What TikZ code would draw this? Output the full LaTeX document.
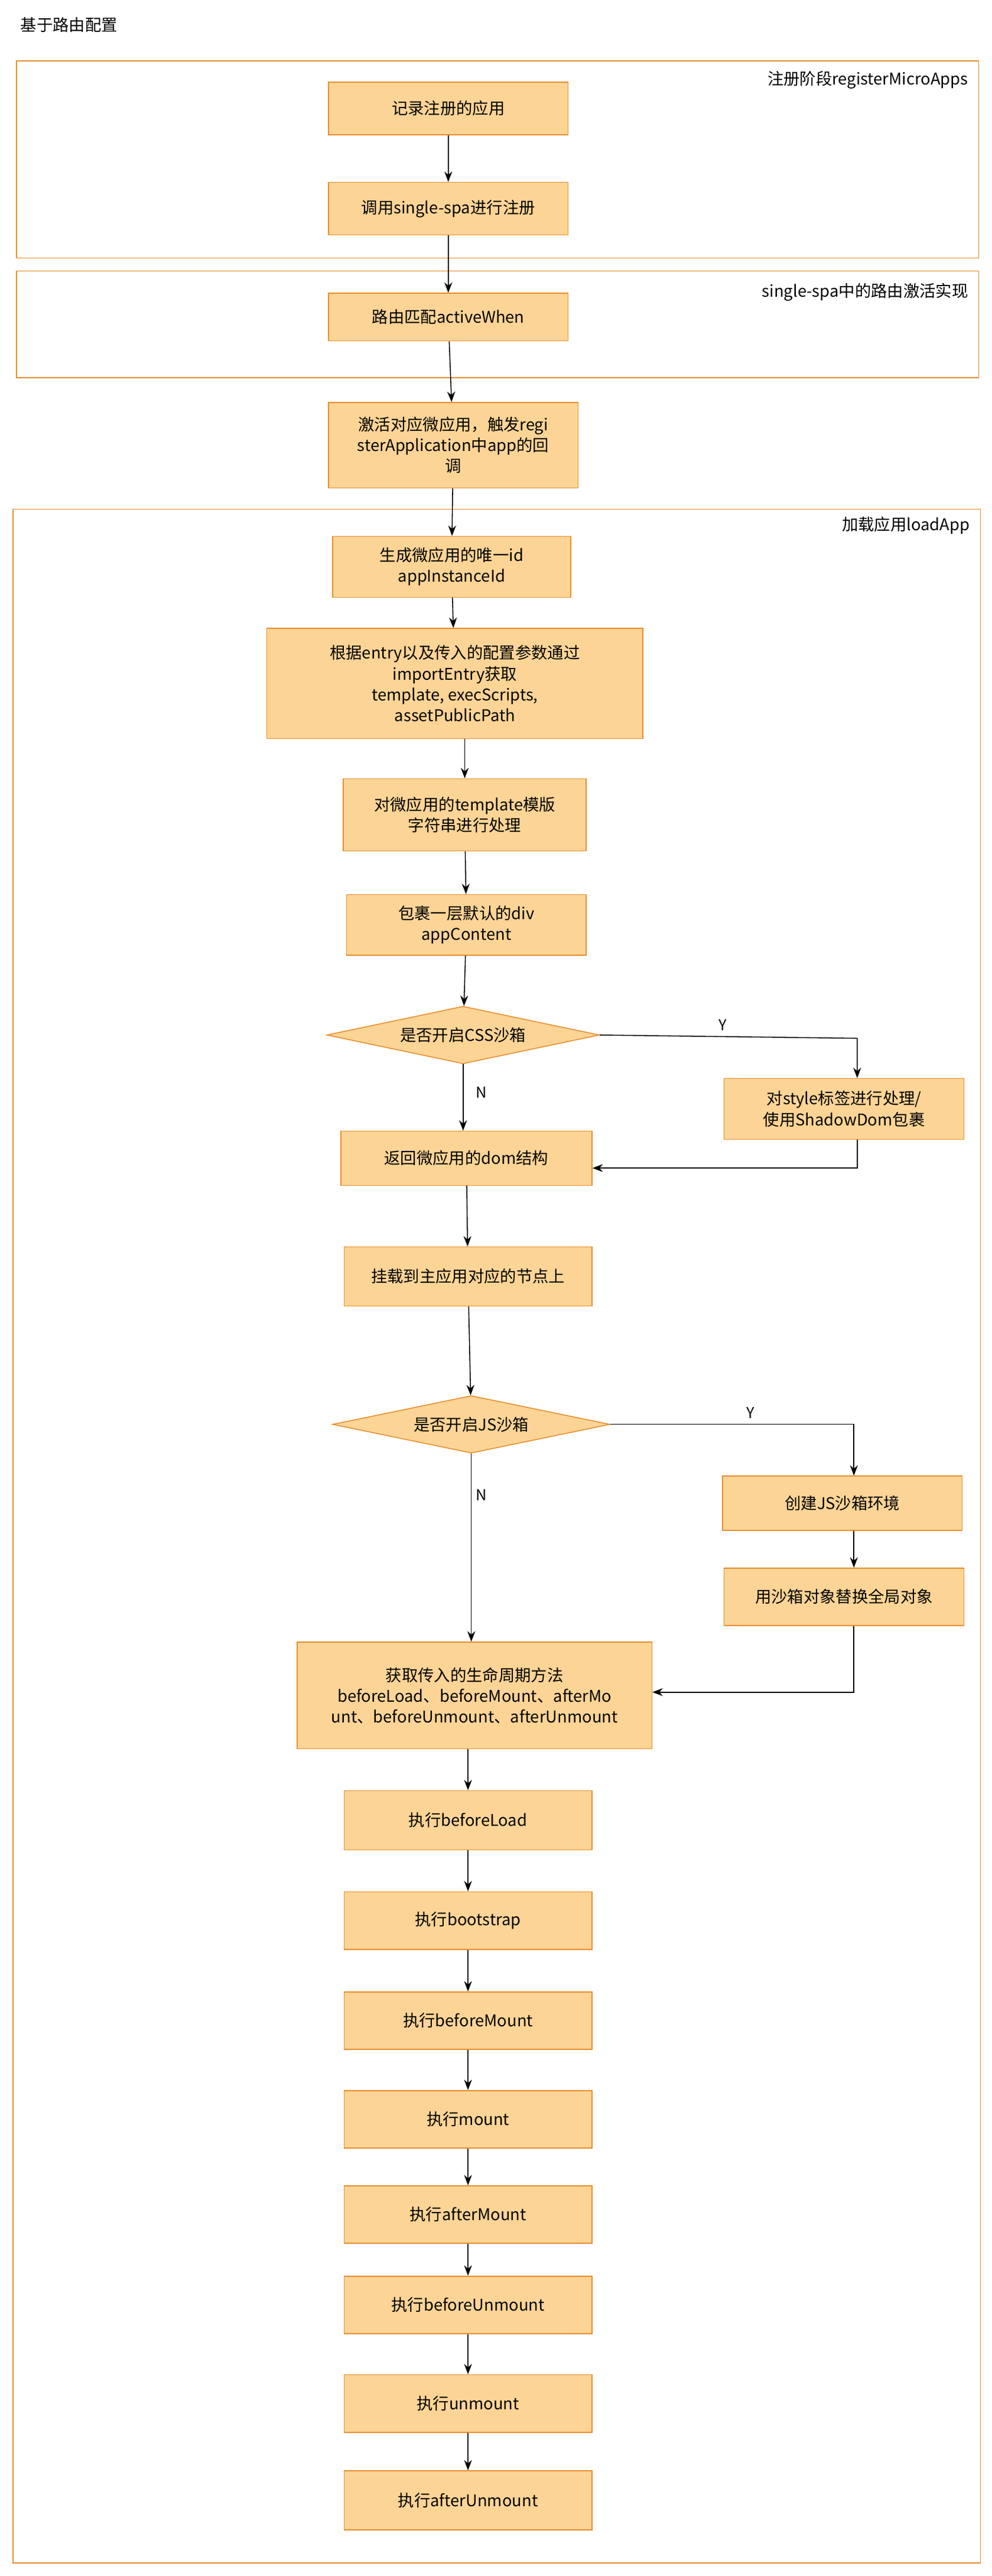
\documentclass[tikz,border=0pt]{standalone}
\usepackage{fontspec}
\setmainfont{Noto Sans CJK SC}
\usetikzlibrary{shapes.geometric, arrows.meta}
\definecolor{myorange}{RGB}{232,140,40}
\definecolor{myfill}{RGB}{252,212,150}
\tikzset{
	stage/.style={
		draw=myorange,
		fill=myfill,
		thick,
		align=center,
		inner sep=2pt,
		font=\fontsize{14}{18}\selectfont
	},
	group/.style={draw=myorange, thick},
	grouplabel/.style={anchor=north east, font=\fontsize{14}{18}\selectfont},
	check/.style={
		draw=myorange,
		fill=myfill,
		thick,
		diamond,
		aspect=4.8,
		inner sep=1pt,
		minimum width=8.3cm,
		minimum height=1.75cm,
		font=\fontsize{14}{18}\selectfont
	}
}

\begin{document}
\begin{tikzpicture}[x=0.05cm, y=-0.05cm]
	\tikzset{edge/.style={-{Stealth[length=9pt]}, thick}}
	\useasboundingbox (0,0) rectangle (604,1568);
	
	\node(title) at (10,15) [anchor=west, font=\fontsize{14}{18}\selectfont] {基于路由配置};
	
	% groups
	\draw[group] (10,37) rectangle (596,157);
	\node(g1) at (592,41) [grouplabel] {注册阶段registerMicroApps};
	\draw[group] (10,165) rectangle (596,230);
	\node(g2) at (592,170) [grouplabel] {single-spa中的路由激活实现};
	\draw[group] (8,310) rectangle (597,1560);
	\node(g3) at (593,312) [grouplabel] {加载应用loadApp};
	
	\node(record) at (273,66) [stage, minimum width=7.3cm, minimum height=1.6cm] {记录注册的应用};
	\node(register) at (273,127) [stage, minimum width=7.3cm, minimum height=1.6cm] {调用single-spa进行注册};
	\node(active) at (273,193) [stage, minimum width=7.3cm, minimum height=1.45cm] {路由匹配activeWhen};
	\node(callback) at (276,271) [stage, minimum width=7.6cm, minimum height=2.6cm] {激活对应微应用，触发regi\\sterApplication中app的回\\调};
	
	\node(instid) at (275,345) [stage, minimum width=7.25cm, minimum height=1.85cm] {生成微应用的唯一id\\appInstanceId};
	\node(entry) at (277,416) [stage, minimum width=11.45cm, minimum height=3.35cm] {根据entry以及传入的配置参数通过\\importEntry获取\\template, execScripts,\\assetPublicPath};
	\node(tpl) at (283,496) [stage, minimum width=7.4cm, minimum height=2.2cm] {对微应用的template模版\\字符串进行处理};
	\node(wrap) at (284,563) [stage, minimum width=7.3cm, minimum height=1.85cm] {包裹一层默认的div\\appContent};
	\node(css) at (282,630) [check] {是否开启CSS沙箱};
	\node(style) at (514,675) [stage, minimum width=7.3cm, minimum height=1.85cm] {对style标签进行处理/\\使用ShadowDom包裹};
	\node(dom) at (284,705) [stage, minimum width=7.65cm, minimum height=1.65cm] {返回微应用的dom结构};
	\node(mountnode) at (285,777) [stage, minimum width=7.55cm, minimum height=1.8cm] {挂载到主应用对应的节点上};
	\node(js) at (287,867) [check, minimum width=8.45cm] {是否开启JS沙箱};
	\node(jsbox) at (513,915) [stage, minimum width=7.3cm, minimum height=1.65cm] {创建JS沙箱环境};
	\node(proxy) at (514,972) [stage, minimum width=7.3cm, minimum height=1.75cm] {用沙箱对象替换全局对象};
	\node(life) at (289,1032) [stage, minimum width=10.8cm, minimum height=3.25cm] {获取传入的生命周期方法\\beforeLoad、beforeMount、afterMo\\unt、beforeUnmount、afterUnmount};
	
	\node(e1) at (285,1108) [stage, minimum width=7.55cm, minimum height=1.8cm] {执行beforeLoad};
	\node(e2) at (285,1169) [stage, minimum width=7.55cm, minimum height=1.75cm] {执行bootstrap};
	\node(e3) at (285,1230) [stage, minimum width=7.55cm, minimum height=1.75cm] {执行beforeMount};
	\node(e4) at (285,1290) [stage, minimum width=7.55cm, minimum height=1.75cm] {执行mount};
	\node(e5) at (285,1348) [stage, minimum width=7.55cm, minimum height=1.75cm] {执行afterMount};
	\node(e6) at (285,1403) [stage, minimum width=7.55cm, minimum height=1.75cm] {执行beforeUnmount};
	\node(e7) at (285,1463) [stage, minimum width=7.55cm, minimum height=1.75cm] {执行unmount};
	\node(e8) at (285,1522) [stage, minimum width=7.55cm, minimum height=1.8cm] {执行afterUnmount};
	
	\draw[edge] (record) -- (register);
	\draw[edge] (register) -- (active);
	\draw[edge] (active) -- (callback);
	\draw[edge] (callback) -- (instid);
	\draw[edge] (instid) -- (entry);
	\draw[edge] (entry.south -| tpl) -- (tpl);
	\draw[edge] (tpl) -- (wrap);
	\draw[edge] (wrap) -- (css);
	\draw[edge] (css.east) -- (522,632) -- (style.north -| 522,0);
	\node(yes1) at (440,624) [font=\fontsize{13}{16}\selectfont] {Y};
	\draw[edge] (css.south) -- (css.south |- dom.north);
	\node(no1) at (293,665) [font=\fontsize{13}{16}\selectfont] {N};
	\draw[edge] (style.south -| 522,0) -- (522,711) -- (dom.east |- 0,711);
	\draw[edge] (dom) -- (mountnode);
	\draw[edge] (mountnode) -- (js);
	\draw[edge] (js.east) -- (520,867) -- (jsbox.north -| 520,0);
	\node(yes2) at (457,860) [font=\fontsize{13}{16}\selectfont] {Y};
	\draw[edge] (js.south) -- (js.south |- life.north);
	\node(no2) at (293,910) [font=\fontsize{13}{16}\selectfont] {N};
	\draw[edge] (jsbox.south -| 520,0) -- (proxy.north -| 520,0);
	\draw[edge] (proxy.south -| 520,0) -- (520,1030) -- (life.east |- 0,1030);
	\draw[edge] (life.south -| e1) -- (e1);
	\draw[edge] (e1) -- (e2);
	\draw[edge] (e2) -- (e3);
	\draw[edge] (e3) -- (e4);
	\draw[edge] (e4) -- (e5);
	\draw[edge] (e5) -- (e6);
	\draw[edge] (e6) -- (e7);
	\draw[edge] (e7) -- (e8);
\end{tikzpicture}
\end{document}
